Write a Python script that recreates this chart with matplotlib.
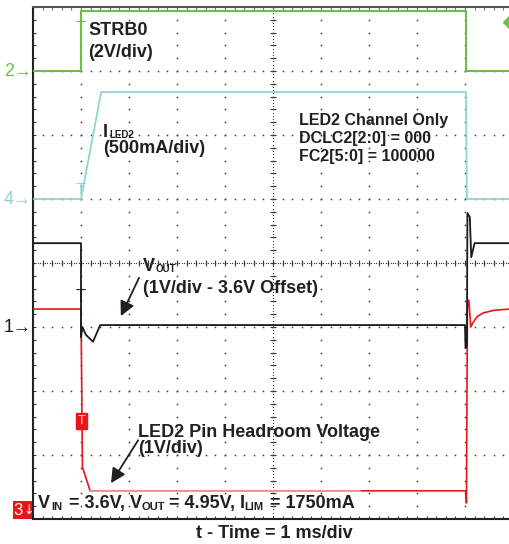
import numpy as np
import matplotlib.pyplot as plt
from matplotlib.patches import Rectangle
from matplotlib import transforms

plt.rcParams['font.family'] = ['Liberation Sans', 'DejaVu Sans']

# time in divisions (1 ms/div), level in screen divisions from bottom edge
strb_t = [0, 1.0, 1.0, 9.02, 9.02, 9.92]
strb_v = [7.0, 7.0, 7.94, 7.94, 7.0, 7.0]
iled_t = [0, 1.0, 1.42, 9.02, 9.04, 9.92]
iled_v = [5.0, 5.0, 6.67, 6.67, 5.0, 5.0]
vout_t = [0, 1.0, 1.0, 1.03, 1.1, 1.25, 1.40, 9.0, 9.01, 9.04, 9.05, 9.10, 9.13, 9.2, 9.92]
vout_v = [4.31, 4.31, 2.84, 3.0, 2.88, 2.77, 3.03, 3.03, 2.67, 2.70, 4.78, 4.72, 4.09, 4.31, 4.31]
head_t = [0, 1.0, 1.03, 1.19, 9.02, 9.03, 9.05, 9.08, 9.12, 9.16, 9.25, 9.38, 9.6, 9.92]
head_v = [3.28, 3.28, 0.81, 0.44, 0.44, 0.25, 3.3, 3.42, 3.0, 3.06, 3.16, 3.22, 3.26, 3.28]
head_faint_t = [1.19, 6.81]
head_faint_v = [0.44, 0.44]

green = '#6cbf45'
cyan = '#8ed4d2'
red = '#e8161b'
black = '#1a1a1a'
txtc = '#231f20'

gnd_labels = ['2', '4', '1']
gnd_levels = [7.0, 5.0, 3.0]
gnd_colors = [green, cyan, black]

trig_t = [0.99, 1.0, 1.0]
trig_y = [7.66, 5.14, 3.48]
trig_c = [green, cyan, black]

fig = plt.figure(figsize=(5.09, 5.44), dpi=100)
ax = fig.add_axes([33/509, 25/544, 476/509, 512/544])
ax.set_xlim(0, 476/48)
ax.set_ylim(0, 8)
ax.set_xticks([])
ax.set_yticks([])
ax.spines['right'].set_visible(False)
for s in ['top', 'left', 'bottom']:
    ax.spines[s].set_linewidth(1.5)
    ax.spines[s].set_color('#222222')
ax.spines['top'].set_color('#555555')

# graticule
gc = '#3a3a3a'
xm = np.arange(0, 10.01, 0.2)
ym = np.arange(0, 8.01, 0.2)
for gy in range(1, 8):
    ax.plot(xm, np.full_like(xm, gy), ls='none', marker='s', ms=1.1, mew=0, color=gc, zorder=1)
for gx in range(1, 10):
    ax.plot(np.full_like(ym, gx), ym, ls='none', marker='s', ms=1.1, mew=0, color=gc, zorder=1)
xd = np.arange(0, 10.01, 0.05)
yd = np.arange(0, 8.01, 0.05)
ax.plot(xd, np.full_like(xd, 4), ls='none', marker='s', ms=0.8, mew=0, color=gc, zorder=1)
ax.plot(np.full_like(yd, 5), yd, ls='none', marker='s', ms=0.8, mew=0, color=gc, zorder=1)
ax.plot(xm, np.full_like(xm, 4), ls='none', marker='|', ms=4, mew=0.8, color=gc, zorder=1)
ax.plot(np.full_like(ym, 5), ym, ls='none', marker='_', ms=4, mew=0.8, color=gc, zorder=1)
ax.plot(xm, np.full_like(xm, 8), ls='none', marker='|', ms=5, mew=0.8, color='#777777', zorder=1)
ax.plot(xm, np.full_like(xm, 0), ls='none', marker='|', ms=5, mew=0.8, color=gc, zorder=1)
ax.plot(np.full_like(ym, 0), ym, ls='none', marker='_', ms=5, mew=0.8, color=gc, zorder=1)

# traces
ax.plot(strb_t, strb_v, color=green, lw=1.5, zorder=3)
ax.plot(iled_t, iled_v, color=cyan, lw=1.3, zorder=3)
ax.plot(head_t, head_v, color=red, lw=1.2, zorder=3)
ax.plot(head_faint_t, head_faint_v, color='#f4a3a3', lw=1.2, zorder=3)
ax.plot(vout_t, vout_v, color=black, lw=1.3, zorder=4)

for t, y, c in zip(trig_t, trig_y, trig_c):
    ax.text(t, y, 'T', color=c, fontsize=12, ha='center', va='center', zorder=5)
ax.text(1.01, 1.53, 'T', color='#ffd0d0', fontsize=9, ha='center', va='center', zorder=5,
        bbox=dict(boxstyle='square,pad=0.15', fc=red, ec=red))
ax.plot([9.97], [7.77], marker='D', ms=9, color=green, zorder=5)

# ground markers
for lab, lv, c in zip(gnd_labels, gnd_levels, gnd_colors):
    ax.text(-0.02, lv, lab + '→', ha='right', va='center', color=c, fontsize=13, clip_on=False)
ax.add_patch(Rectangle((-0.42, 0), 0.42, 0.28, facecolor=red, edgecolor='none', clip_on=False))
ax.text(-0.31, 0.135, '3', ha='center', va='center', color='white', fontsize=12, clip_on=False)
ax.text(-0.10, 0.135, '↓', ha='center', va='center', color='white', fontsize=9,
        family='DejaVu Sans', clip_on=False)

# labels
fs = 13
kw = dict(fontsize=fs, fontweight='bold', color=txtc, zorder=6)
renderer = fig.canvas.get_renderer()
space = 5.0


def runs_text(x, y, runs, sub_fs, drop):
    # runs: list of (text, is_subscript, gap_after_px)
    dx = 0.0
    for s, sub, gap in runs:
        tr = transforms.offset_copy(ax.transData, fig=fig, x=dx, y=-drop if sub else 0, units='dots')
        t = ax.text(x, y, s, transform=tr, fontsize=sub_fs if sub else fs,
                    fontweight='bold', color=txtc, zorder=6, clip_on=False)
        dx += t.get_window_extent(renderer=renderer).width + gap


ax.text(1.15, 7.56, 'STRB0', **kw)
ax.text(1.15, 7.22, '(2V/div)', **kw)
runs_text(1.46, 5.97, [('I', False, 1.5), ('LED2', True, 0)], 7, 1)
ax.text(1.46, 5.72, '(500mA/div)', **kw)
info = ['LED2 Channel Only', 'DCLC2[2:0] = 000', 'FC2[5:0] = 100000']
for i, line in enumerate(info):
    ax.text(5.54, 6.16 - i * 0.285, line, fontsize=11.5, fontweight='bold', color=txtc)
runs_text(2.29, 3.875, [('V', False, 1.0), ('OUT', True, 0)], 7, 1)
ax.text(2.29, 3.53, '(1V/div - 3.6V Offset)', **kw)
ax.text(2.19, 1.28, 'LED2 Pin Headroom Voltage', **kw)
ax.text(2.19, 1.03, '(1V/div)', **kw)
runs_text(0.104, 0.17, [('V', False, 1.5), ('IN', True, space + 1.5),
                        ('= 3.6V, V', False, -1.0), ('OUT', True, space - 0.5),
                        ('= 4.95V, I', False, -0.5), ('LIM', True, space + 1.0),
                        ('= 1750mA', False, 0)], 8, 2)
ax.text(5.02, -0.297, 't - Time = 1 ms/div', ha='center', clip_on=False,
        fontsize=fs, fontweight='bold', color=txtc)

ap = dict(arrowstyle='-|>', color=txtc, lw=1.3, mutation_scale=22, shrinkA=0, shrinkB=0)
ax.annotate('', xy=(1.83, 3.17), xytext=(2.21, 3.77), arrowprops=ap, zorder=6)
ax.annotate('', xy=(1.625, 0.56), xytext=(2.19, 1.23), arrowprops=ap, zorder=6)

fig.savefig('out.png', dpi=100)
